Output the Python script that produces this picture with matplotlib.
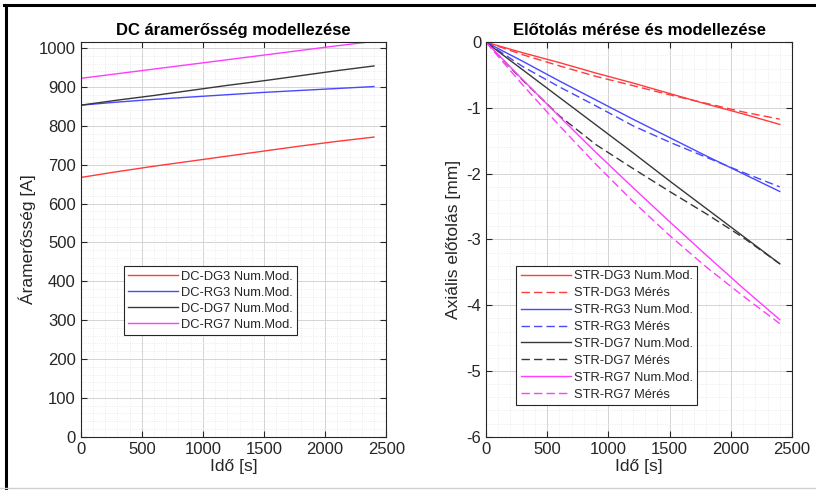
import numpy as np
import matplotlib
matplotlib.use('Agg')
from matplotlib import pyplot as plt
from matplotlib.ticker import AutoMinorLocator
from matplotlib.lines import Line2D

plt.rcParams['font.family'] = ['Liberation Sans', 'DejaVu Sans']

# time [s]
t = [0, 300, 600, 900, 1200, 1500, 1800, 2100, 2400]

# DC current [A]
dc_dg3 = [667, 682, 696, 709, 722, 735, 748, 760, 771]
dc_rg3 = [853, 861, 868, 874, 880, 886, 891, 896, 901]
dc_dg7 = [853, 866, 878, 891, 904, 916, 929, 942, 954]
dc_rg7 = [922, 934, 946, 958, 970, 982, 994, 1006, 1017]
dc_labels = ['DC-DG3 Num.Mod.', 'DC-RG3 Num.Mod.', 'DC-DG7 Num.Mod.', 'DC-RG7 Num.Mod.']

# axial feed [mm]
str_dg3_mod = [0, -0.16, -0.31, -0.47, -0.62, -0.78, -0.94, -1.09, -1.25]
str_dg3_mer = [0, -0.19, -0.36, -0.52, -0.66, -0.80, -0.93, -1.06, -1.17]
str_rg3_mod = [0, -0.29, -0.59, -0.88, -1.17, -1.45, -1.73, -2.00, -2.27]
str_rg3_mer = [0, -0.37, -0.68, -0.97, -1.27, -1.52, -1.75, -1.98, -2.20]
str_dg7_mod = [0, -0.42, -0.84, -1.26, -1.68, -2.11, -2.53, -2.95, -3.37]
str_dg7_mer = [0, -0.58, -1.12, -1.56, -1.92, -2.27, -2.61, -2.97, -3.37]
str_rg7_mod = [0, -0.57, -1.13, -1.68, -2.21, -2.73, -3.24, -3.74, -4.22]
str_rg7_mer = [0, -0.65, -1.27, -1.86, -2.42, -2.94, -3.42, -3.86, -4.28]
str_labels = ['STR-DG3 Num.Mod.', 'STR-DG3 Mérés', 'STR-RG3 Num.Mod.', 'STR-RG3 Mérés',
              'STR-DG7 Num.Mod.', 'STR-DG7 Mérés', 'STR-RG7 Num.Mod.', 'STR-RG7 Mérés']

colors = ['#ff3b3b', '#4848ff', '#383838', '#ff3cff']
axcol = '#262626'


def style(ax):
    ax.set_xlim(0, 2500)
    ax.set_xticks([0, 500, 1000, 1500, 2000, 2500])
    ax.xaxis.set_minor_locator(AutoMinorLocator(5))
    ax.yaxis.set_minor_locator(AutoMinorLocator(5))
    ax.grid(True, which='major', color='#d4d4d4', lw=0.7)
    ax.grid(True, which='minor', color='#e6e6e6', lw=0.6, ls=':')
    ax.set_axisbelow(True)
    ax.tick_params(which='both', direction='in', top=True, right=True,
                   labelsize=12, colors=axcol)
    ax.tick_params(which='major', length=4)
    ax.tick_params(which='minor', length=0)
    for s in ax.spines.values():
        s.set_color(axcol)
        s.set_linewidth(0.8)
    ax.set_xlabel('Idő [s]', fontsize=12.5, color=axcol, labelpad=2)


def legend(ax, x0, top, sp):
    leg = ax.legend(loc='upper left', bbox_to_anchor=(x0, top), fontsize=9.3,
                    handlelength=3.9, handletextpad=0.2, borderpad=0.35,
                    labelspacing=sp, fancybox=False, framealpha=1)
    leg.get_frame().set_edgecolor(axcol)
    leg.get_frame().set_linewidth(0.8)
    for txt in leg.get_texts():
        txt.set_color(axcol)


fig = plt.figure(figsize=(8.16, 4.9), dpi=100)
ax1 = fig.add_axes([0.0989, 0.1088, 0.3744, 0.805])
ax2 = fig.add_axes([0.5956, 0.1088, 0.375, 0.805])

dc = [dc_dg3, dc_rg3, dc_dg7, dc_rg7]
for i in range(4):
    ax1.plot(t, dc[i], color=colors[i], lw=1.0, label=dc_labels[i])
style(ax1)
ax1.set_ylim(0, 1015)
ax1.set_yticks(np.arange(0, 1001, 100))
ax1.set_ylabel('Áramerősség [A]', fontsize=12.5, color=axcol, labelpad=2)
ax1.set_title('DC áramerősség modellezése', fontsize=12, fontweight='bold', pad=5)
legend(ax1, 0.119, 0.448, 0.3)

mods = [str_dg3_mod, str_rg3_mod, str_dg7_mod, str_rg7_mod]
mers = [str_dg3_mer, str_rg3_mer, str_dg7_mer, str_rg7_mer]
for i in range(4):
    ax2.plot(t, mods[i], color=colors[i], lw=1.0, label=str_labels[2 * i])
    ax2.plot(t, mers[i], color=colors[i], lw=1.0, dashes=(6, 3), label=str_labels[2 * i + 1])
style(ax2)
ax2.set_ylim(-6, 0)
ax2.set_yticks(np.arange(-6, 0.1, 1))
ax2.set_yticklabels(['-6', '-5', '-4', '-3', '-2', '-1', '0'])
ax2.set_ylabel('Axiális előtolás [mm]', fontsize=12.5, color=axcol, labelpad=4)
ax2.set_title('Előtolás mérése és modellezése', fontsize=12, fontweight='bold', pad=5)
legend(ax2, 0.078, 0.45, 0.38)

# outer frame of the screenshot
fig.add_artist(Line2D([0.0055, 1.0], [0.9898, 0.9898], color='black', lw=2.2,
                      transform=fig.transFigure))
fig.add_artist(Line2D([0.0068, 0.0068], [0.0, 0.9898], color='black', lw=2.2,
                      transform=fig.transFigure))
fig.add_artist(Line2D([0.0, 1.0], [0.004, 0.004], color='#d0d0d0', lw=1.0,
                      transform=fig.transFigure))

fig.savefig('out.png', dpi=100)
